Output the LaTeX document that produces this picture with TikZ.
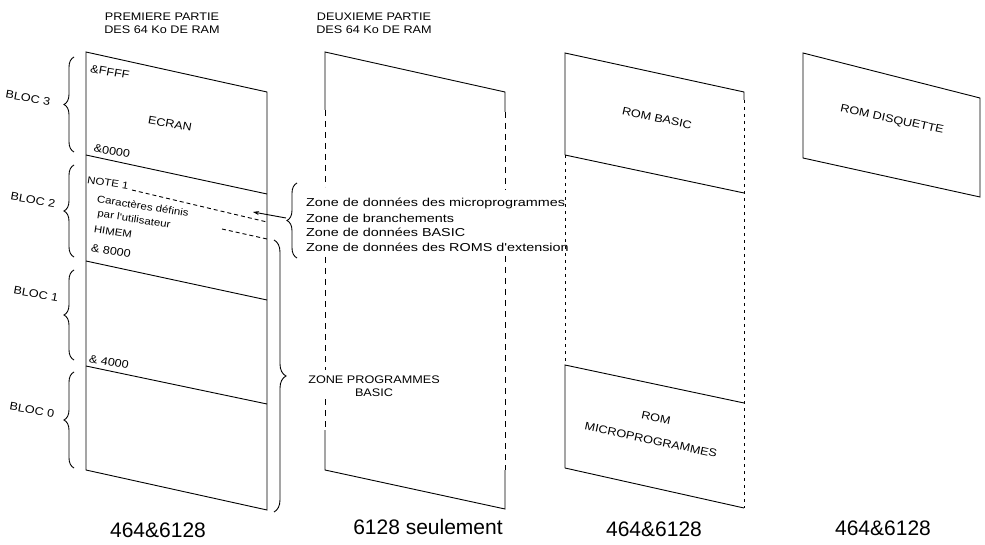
\documentclass[tikz,border=0pt]{standalone}
\usepackage{fontspec}
\setmainfont{Liberation Sans}
\newfontfamily\widefont{Liberation Sans}[FakeStretch=1.15]
\newfontfamily\widerfont{Liberation Sans}[FakeStretch=1.25]
\usetikzlibrary{decorations.pathreplacing,arrows.meta}
\begin{document}
\begin{tikzpicture}[x=1pt,y=-1pt,
  edge/.style={line width=0.9pt},
  dsh/.style={line width=0.9pt, dash pattern=on 6pt off 5pt},
  fine/.style={line width=0.8pt, dash pattern=on 3pt off 4pt},
  lbl/.style={font=\widefont\fontsize{11}{13}\selectfont, inner sep=0pt},
  zone/.style={font=\widerfont\fontsize{11.5}{13}\selectfont, inner sep=0pt, anchor=west},
  tilt/.style={lbl, rotate=-10},
  small/.style={font=\widefont\fontsize{10}{12}\selectfont, inner sep=0pt, rotate=-9},
  romlbl/.style={lbl, rotate=-12},
  big/.style={font=\fontsize{21}{24}\selectfont, inner sep=0pt},
  brc/.style={decorate, decoration={brace, amplitude=10pt}, line width=0.9pt},
]
\useasboundingbox (0,0) rectangle (985,545);

% headers
\node[lbl, align=center] (h1) at (162,23) {PREMIERE PARTIE\\DES 64 Ko DE RAM};
\node[lbl, align=center] (h2) at (374,23) {DEUXIEME PARTIE\\DES 64 Ko DE RAM};

% column 1
\draw[edge] (86,52) -- (86,470) -- (267,510) -- (267,92) -- cycle;
\draw[edge] (86,155) -- (267,194);
\draw[edge] (86,261) -- (267,300);
\draw[edge] (86,366) -- (267,404);

\node[tilt] (ffff) at (110,72) {\&FFFF};
\node[tilt] (ecran) at (170,124) {ECRAN};
\node[tilt] (z0000) at (112,151) {\&0000};
\node[small] (note) at (108,183) {NOTE 1};
\node[small] (car) at (143,206) {Caractères définis};
\node[small] (par) at (134,220) {par l'utilisateur};
\node[small] (himem) at (113,232) {HIMEM};
\node[tilt] (z8000) at (111,251) {\& 8000};
\node[tilt] (z4000) at (109,362) {\& 4000};

\coordinate (n1a) at (132,190);
\coordinate (n1b) at (267,222);
\coordinate (n2a) at (222,229);
\coordinate (n2b) at (267,239);
\draw[edge, dash pattern=on 4pt off 3pt] (n1a) -- (n1b);
\draw[edge, dash pattern=on 4pt off 3pt] (n2a) -- (n2b);

% left braces and bloc labels
\draw[brc] (74,152) -- (74,57);
\draw[brc] (74,257) -- (74,165);
\draw[brc] (74,360) -- (74,270);
\draw[brc] (74,468) -- (74,372);
\node[tilt] (b3) at (28,98) {BLOC 3};
\node[tilt] (b2) at (33,200) {BLOC 2};
\node[tilt] (b1) at (36,294) {BLOC 1};
\node[tilt] (b0) at (32,410) {BLOC 0};

% zone brace
\draw[brc] (297,258) -- (297,183);
\coordinate (ztip) at (286,218);
\coordinate (zarr) at (253,212);
\draw[edge, -{Stealth[length=6pt,width=4pt]}] (ztip) -- (zarr);
\node[zone] (zl1) at (306,203) {Zone de données des microprogrammes};
\node[zone] (zl2) at (306,218) {Zone de branchements};
\node[zone] (zl3) at (306,232) {Zone de données BASIC};
\node[zone] (zl4) at (306,247) {Zone de données des ROMS d'extension};

% programme brace
\draw[brc, decoration={brace, amplitude=12pt}] (274,240) -- (274,512);
\node[lbl, align=center] (zp) at (374,386) {ZONE PROGRAMMES\\BASIC};

% column 2
\draw[edge] (325,110) -- (325,52) -- (505,92) -- (505,112);
\draw[dsh] (325,110) -- (325,187);
\draw[dsh] (325,257) -- (325,370);
\draw[dsh] (325,399) -- (325,430);
\draw[edge] (325,430) -- (325,470) -- (505,509) -- (505,470);
\draw[dsh] (505,112) -- (505,190);
\draw[dsh] (505,256) -- (505,470);

% column 3
\draw[edge] (565,155) -- (565,53) -- (744,92) -- (744,100);
\draw[edge] (565,155) -- (744,193);
\draw[edge] (565,468) -- (565,365) -- (744,403);
\draw[edge] (565,468) -- (744,508);
\draw[fine] (565,155) -- (565,365);
\draw[fine] (744,100) -- (744,508);
\node[romlbl] (rb) at (657,118) {ROM BASIC};
\node[romlbl] (rm1) at (656,418) {ROM};
\node[romlbl] (rm2) at (651,440) {MICROPROGRAMMES};

% column 4
\draw[edge] (803,53) -- (980,98) -- (980,197) -- (803,158) -- cycle;
\node[romlbl] (rd) at (892,120) {ROM DISQUETTE};

% bottom labels
\node[big] (c1) at (158,530) {464\&6128};
\node[big] (c2) at (428,527) {6128 seulement};
\node[big] (c3) at (654,529) {464\&6128};
\node[big] (c4) at (883,528) {464\&6128};
\end{tikzpicture}
\end{document}
